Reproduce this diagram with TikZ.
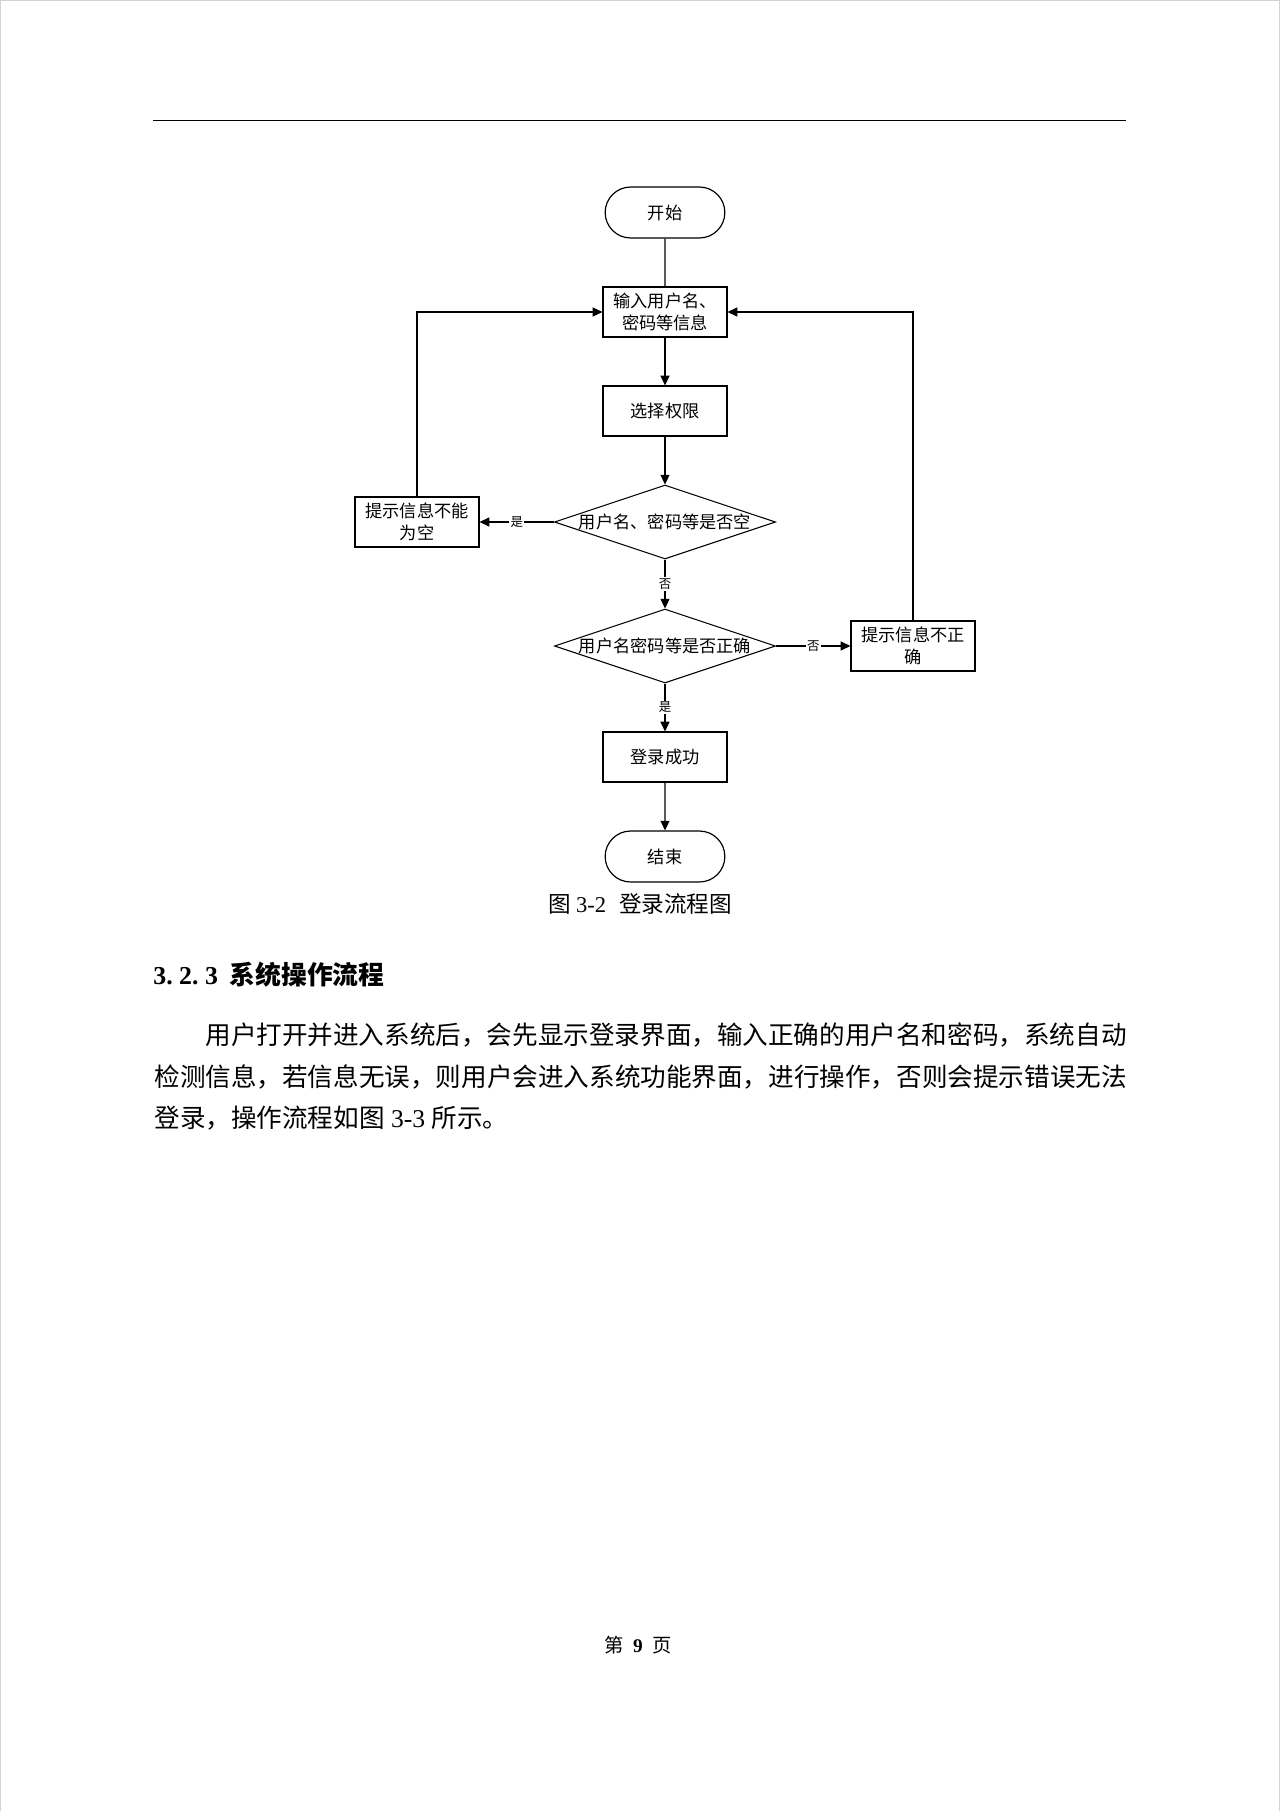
\documentclass[tikz,border=0pt]{standalone}
\usepackage{fontspec}
\setmainfont{Liberation Serif}
\newfontfamily\cjk{Noto Sans CJK SC}
\usetikzlibrary{shapes.geometric,shapes.misc,arrows.meta}
\tikzset{
  box/.style={draw, line width=0.55pt, minimum width=57.67pt, minimum height=23.25pt,
    inner sep=1pt, align=center, font=\cjk\fontsize{8}{10}\selectfont},
  term/.style={box, rounded rectangle, minimum height=23.7pt},
  dia/.style={draw, diamond, line width=0.5pt, minimum width=102.8pt, minimum height=34.4pt, inner sep=0pt},
  dtext/.style={font=\cjk\fontsize{8}{10}\selectfont, inner sep=0pt},
  arr/.style={-{Triangle[length=4.5pt,width=4.2pt]}, line width=0.5pt},
  lab/.style={fill=white, inner sep=0.6pt, font=\cjk\fontsize{5.8}{6}\selectfont},
  bodyline/.style={anchor=west, inner sep=0pt, font=\fontsize{11.9}{14}\selectfont},
}
\begin{document}
\begin{tikzpicture}[x=0.46506pt, y=-0.46506pt]
\useasboundingbox (0,0) rectangle (1280,1811);
\fill[white] (0,0) rectangle (1280,1811);
% page frame
\draw[gray!35, line width=0.6pt] (0.7,1811) -- (0.7,0.7) -- (1279.3,0.7) -- (1279.3,1811);
% header rule
\coordinate (hl) at (153,120.5);
\coordinate (hr) at (1126,120.5);
\draw[line width=0.65pt] (hl) -- (hr);

% flowchart nodes
\node[term] (start) at (665,212.5) {开始};
\node[box]  (inp)   at (665,312)   {输入用户名、\\密码等信息};
\node[box]  (sel)   at (665,411)   {选择权限};
\node[dia]  (d1)    at (665,522)   {};
\node[dtext] (d1t)  at (665,522)   {用户名、密码等是否空};
\node[box]  (nl)    at (417,522)   {提示信息不能\\为空};
\node[dia]  (d2)    at (665,646)   {};
\node[dtext] (d2t)  at (665,646)   {用户名密码等是否正确};
\node[box]  (nr)    at (913,646)   {提示信息不正\\确};
\node[box]  (ok)    at (665,757)   {登录成功};
\node[term] (fin)   at (665,856.5) {结束};

% connectors
\draw[line width=0.5pt] (start) -- (inp);
\draw[arr] (inp) -- (sel);
\draw[arr] (sel) -- (d1);
\draw[arr] (d1.south) -- node[lab]{否} (d2.north);
\draw[arr] (d1.west) -- node[lab]{是} (nl.east);
\draw[arr] (nl.north) |- (inp.west);
\draw[arr] (d2.east) -- node[lab]{否} (nr.west);
\draw[arr] (nr.north) |- (inp.east);
\draw[arr] (d2.south) -- node[lab]{是} (ok.north);
\draw[arr] (ok) -- (fin);

% caption
\node[inner sep=0pt, font=\fontsize{10.5}{12}\selectfont] (cap) at (640,904)
  {{\cjk 图}\hspace{2.5pt}3-2\hspace{6pt}{\cjk 登录流程图}};

% heading
\node[anchor=west, inner sep=0pt, font=\bfseries\fontsize{12}{14}\selectfont] (head) at (153,975)
  {3.\hspace{3pt}2.\hspace{3pt}3\hspace{5.5pt}{\cjk\bfseries 系统操作流程}};

% body text
\node[bodyline] (l1) at (205,1035) {\cjk 用户打开并进入系统后，会先显示登录界面，输入正确的用户名和密码，系统自动};
\node[bodyline] (l2) at (154,1077) {\cjk 检测信息，若信息无误，则用户会进入系统功能界面，进行操作，否则会提示错误无法};
\node[bodyline] (l3) at (154,1118) {{\cjk 登录，操作流程如图}\hspace{3pt}3-3\hspace{3pt}{\cjk 所示。}};

% page number
\node[inner sep=0pt, font=\fontsize{9}{11}\selectfont] (pg) at (638,1645)
  {{\cjk 第}\hspace{4.5pt}{\bfseries 9}\hspace{4.5pt}{\cjk 页}};
\end{tikzpicture}
\end{document}
